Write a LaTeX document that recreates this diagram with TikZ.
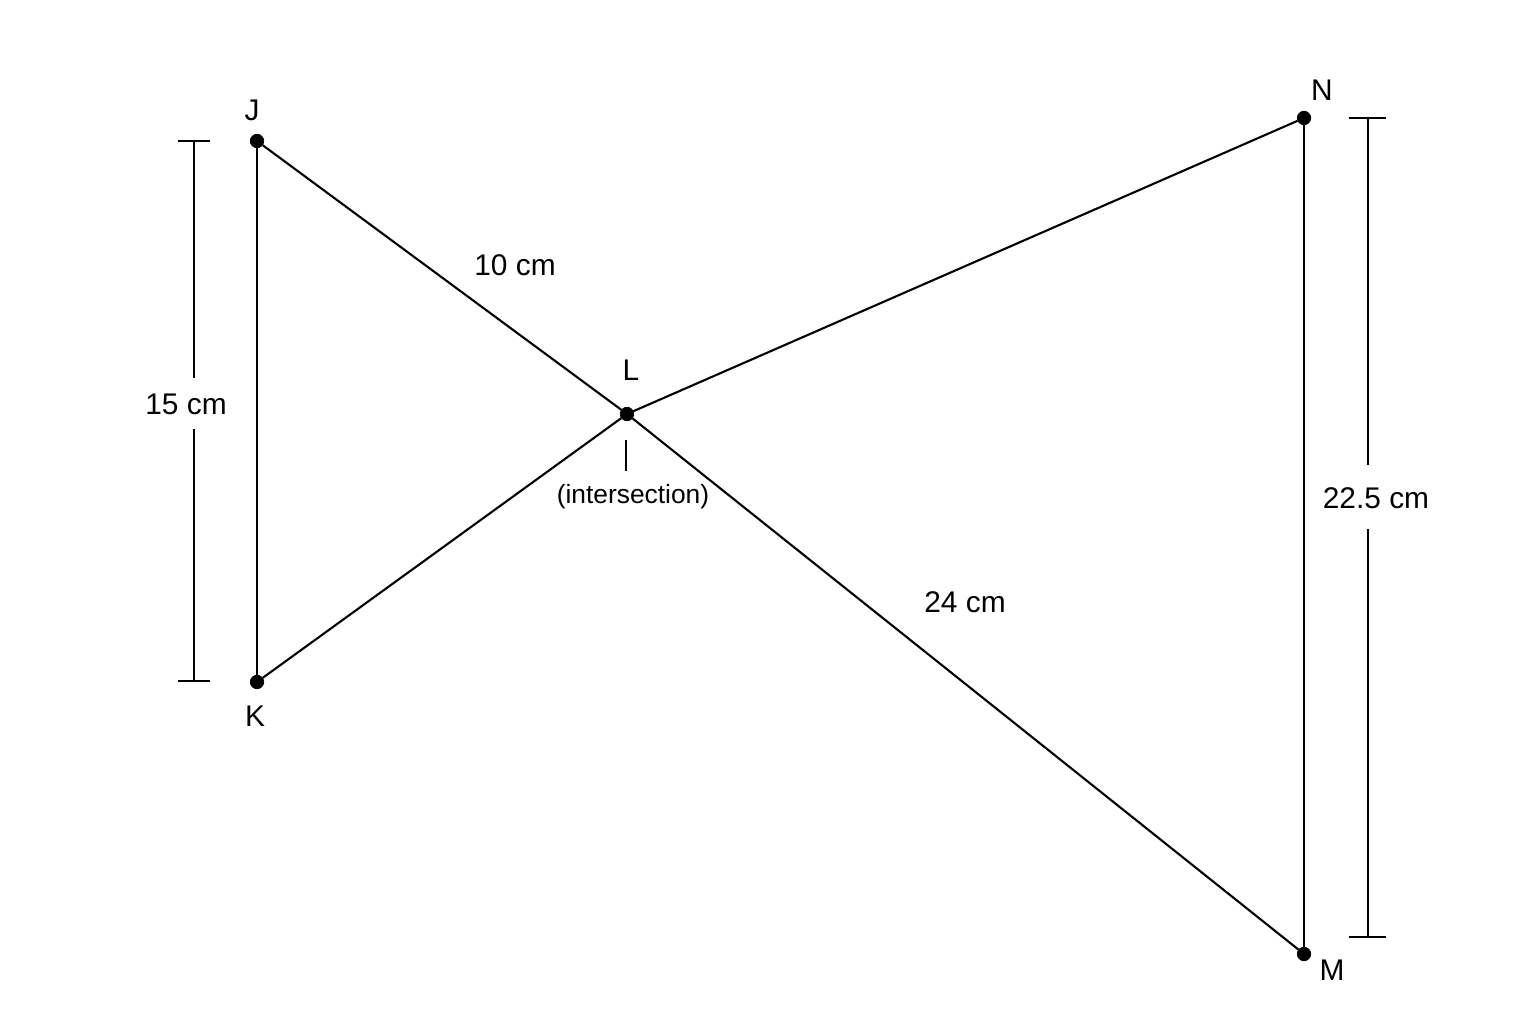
\documentclass[tikz,border=0pt]{standalone}
\usepackage{fontspec}
\setmainfont{Liberation Sans}
\usetikzlibrary{positioning}

\begin{document}
\begin{tikzpicture}[x=0.02cm, y=-0.02cm,
        dot/.style = {draw, circle, fill, inner sep=0pt, minimum size=0.27cm},
        lbl/.style = {inner sep=0pt, font=\fontsize{17}{20}\selectfont},
        small/.style = {inner sep=0pt, font=\fontsize{15}{18}\selectfont},
        seg/.style = {line width=1.2pt},
        dim/.style = {line width=0.8pt}]
        \useasboundingbox (0,0) rectangle (1536,1024);
        \node[dot] (J) at (257,141) {};
        \node[dot] (K) at (257,682) {};
        \node[dot] (L) at (627,414) {};
        \node[dot] (N) at (1304,118) {};
        \node[dot] (M) at (1304,954) {};
        \node[lbl] at (252,110) {J};
        \node[lbl] at (255,716) {K};
        \node[lbl] at (631,370) {L};
        \node[lbl] at (1322,90)  {N};
        \node[lbl] at (1332,970) {M};
        \draw   [seg]   (J)     --  (K);
        \draw   [seg]   (J)     --  (L);
        \draw   [seg]   (L)     --  (M);
        \draw   [seg]   (K)     --  (L);
        \draw   [seg]   (L)     --  (N);
        \draw   [seg]   (N)     --  (M);
        \node[lbl] (jl) at (515,265) {10 cm};
        \node[lbl] (lm) at (965,602) {24 cm};
        % intersection note
        \coordinate (t_1) at (626,440);
        \coordinate (t_2) at (626,471);
        \draw   [dim]   (t_1)   --  (t_2);
        \node[small] (note) at (633,497) {(intersection)};
        % dimension lines
        \node[lbl] (jk) at (186,404) {15 cm};
        \coordinate (a_1) at (194,141);
        \coordinate (a_2) at (194,681);
        \draw   [dim]   (a_1)   --  (194,378);
        \draw   [dim]   (194,429)   --  (a_2);
        \draw   [dim]   (178,141)   --  (210,141);
        \draw   [dim]   (178,681)   --  (210,681);
        \node[lbl] (nm) at (1376,498) {22.5 cm};
        \coordinate (b_1) at (1368,118);
        \coordinate (b_2) at (1368,937);
        \draw   [dim]   (b_1)   --  (1368,465);
        \draw   [dim]   (1368,529)  --  (b_2);
        \draw   [dim]   (1349,118)  --  (1386,118);
        \draw   [dim]   (1349,937)  --  (1386,937);
    \end{tikzpicture}
\end{document}
